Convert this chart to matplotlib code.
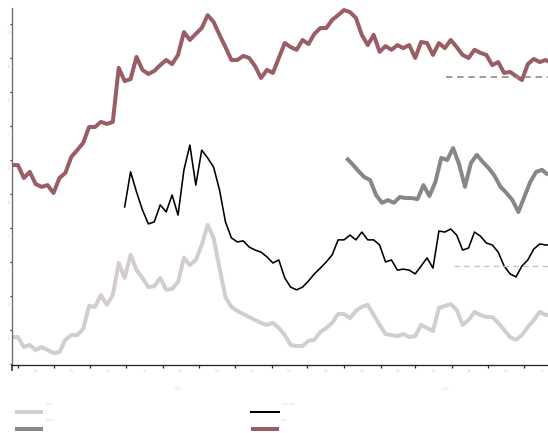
import matplotlib
matplotlib.use("Agg")
import matplotlib.pyplot as plt
import matplotlib.dates as mdates
from matplotlib.lines import Line2D
from matplotlib.transforms import blended_transform_factory, offset_copy
import pandas as pd
import numpy as np

# ---- data -------------------------------------------------------------
start = pd.Timestamp("2019-03-27")
end = pd.Timestamp("2020-06-21")
step_days = 5

# long history, thick light line
light_vals = [7.9, 7.9, 5.0, 5.6, 4.1, 5.0, 4.1, 3.2, 3.5, 7.1, 8.5, 8.5, 10.3, 17.1, 16.8,
              20.3, 17.4, 20.3, 29.7, 25.3, 32.1, 27.6, 25.3, 22.6, 22.9, 25.3, 21.8, 22.1,
              24.1, 31.2, 29.1, 30.6, 35.0, 40.9, 37.1, 28.2, 19.7, 16.8, 15.6, 14.7, 13.8,
              12.9, 12.1, 11.5, 12.1, 10.6, 8.5, 5.6, 5.3, 5.3, 6.8, 7.1, 9.4, 10.6, 12.1,
              14.7, 14.7, 13.5, 15.6, 16.8, 17.4, 14.4, 11.5, 8.8, 8.5, 8.2, 8.8, 7.9, 8.2,
              11.5, 10.6, 9.7, 16.5, 17.1, 17.6, 15.9, 11.5, 12.9, 15.3, 14.4, 13.8, 13.8,
              12.1, 10.0, 7.9, 7.1, 8.5, 10.9, 12.9, 15.3, 14.4, 14.4]

# long history, thick mauve line
mauve_vals = [58.5, 58.5, 54.7, 56.5, 52.9, 52.1, 52.6, 50.3, 54.7, 56.2, 60.9, 62.9, 65.0,
              69.7, 69.7, 71.2, 70.6, 71.2, 87.1, 83.2, 83.8, 90.3, 86.5, 85.3, 86.2, 87.9,
              89.4, 88.2, 90.9, 97.6, 95.3, 97.1, 98.8, 102.6, 100.6, 96.8, 93.2, 89.4, 89.4,
              90.6, 90.0, 87.6, 84.1, 86.5, 85.6, 90.0, 94.4, 93.2, 92.4, 95.3, 94.1, 97.1,
              98.8, 98.8, 101.2, 102.6, 104.1, 103.5, 101.8, 96.8, 93.8, 96.8, 91.8, 93.5,
              92.4, 93.8, 92.9, 93.8, 90.0, 94.7, 94.4, 90.9, 94.4, 92.9, 95.3, 93.2, 90.9,
              90.0, 92.4, 91.5, 90.9, 87.9, 88.8, 85.6, 85.9, 84.7, 83.5, 88.2, 89.7, 88.8,
              89.4, 88.5]

# shorter history, thin black line
black_start = pd.Timestamp("2019-06-30")
black_vals = [46.2, 56.5, 50.6, 45.3, 41.2, 41.8, 46.8, 44.7, 49.7, 43.8, 57.1, 64.4, 52.6,
              62.9, 60.6, 57.9, 51.2, 41.8, 37.1, 35.9, 36.2, 34.4, 33.5, 32.9, 31.5, 29.7,
              30.6, 25.3, 22.6, 21.8, 22.6, 24.4, 26.5, 28.2, 30.0, 32.1, 36.5, 36.5, 37.9,
              36.5, 38.8, 36.5, 36.5, 35.0, 30.0, 30.6, 27.6, 27.9, 27.6, 26.5, 28.8, 31.2,
              28.2, 39.1, 38.8, 39.7, 37.9, 33.5, 34.1, 38.8, 37.6, 35.6, 35.0, 32.9, 28.8,
              26.5, 25.6, 28.8, 30.6, 33.8, 35.3, 35.0, 35.0]

# shortest history, thick grey line
grey_start = pd.Timestamp("2020-01-03")
grey_vals = [60.6, 58.8, 56.8, 55.0, 54.1, 49.7, 47.4, 48.2, 47.4, 49.1, 48.8, 48.8, 48.5,
             52.6, 49.4, 53.5, 60.6, 60.0, 63.5, 58.8, 52.1, 59.1, 61.5, 59.4, 57.6, 55.3,
             52.1, 50.3, 48.2, 44.7, 49.1, 53.5, 56.5, 57.1, 55.6]

# horizontal reference levels
ref_mauve = 84.3
ref_mauve_from = pd.Timestamp("2020-03-27")
ref_black = 28.8
ref_black_from = pd.Timestamp("2020-04-03")

legend_names = ["Close", "Close (adj.)", "Volume", "Index"]
y_ticks = [0, 10, 20, 30, 40, 50, 60, 70, 80, 90, 100]
years = ["2019", "2020"]

# ---- colours ----------------------------------------------------------
c_light = "#d3cecb"
c_mauve = "#9a5d64"
c_grey = "#878787"
c_black = "#000000"
c_text = "#d4d4d4"

def series_dates(first, n):
    return pd.date_range(first, periods=n, freq=f"{step_days}D")

fig = plt.figure(figsize=(5.48, 4.33), dpi=100)
W, H = 548, 433
ax = fig.add_axes([12 / W, (H - 365) / H, 536 / W, (365 - 8) / H])

px = 72 / 100  # points per pixel

ax.plot(series_dates(start, len(light_vals)), light_vals, color=c_light, lw=4 * px,
        solid_joinstyle="round", solid_capstyle="butt")
ax.plot(series_dates(start, len(mauve_vals)), mauve_vals, color=c_mauve, lw=4 * px,
        solid_joinstyle="round", solid_capstyle="butt")
ax.plot(series_dates(black_start, len(black_vals)), black_vals, color=c_black, lw=1.6 * px,
        solid_joinstyle="round")
ax.plot(series_dates(grey_start, len(grey_vals)), grey_vals, color=c_grey, lw=4 * px,
        solid_joinstyle="round", solid_capstyle="butt")

ax.plot([ref_mauve_from, end], [ref_mauve, ref_mauve], color=c_grey, lw=1.6 * px,
        dashes=(4, 3))
ax.plot([ref_black_from, end], [ref_black, ref_black], color="#c9c3bd", lw=1.4 * px,
        dashes=(4, 3))

ax.set_xlim(start, end)
ax.set_ylim(-0.3, 104.7)

for s in ("top", "right"):
    ax.spines[s].set_visible(False)
ax.spines["left"].set_color("#6a6a6a")
ax.spines["left"].set_linewidth(1.3 * px)
ax.spines["bottom"].set_color("#222222")
ax.spines["bottom"].set_linewidth(1.3 * px)

# month ticks along the bottom, longer ticks at year boundaries
ax.xaxis.set_major_locator(mdates.MonthLocator())
ax.xaxis.set_major_formatter(plt.NullFormatter())
ax.set_xticks([start, pd.Timestamp("2020-01-01")], minor=True)
ax.tick_params(axis="x", which="major", direction="out", length=3 * px, width=1.2 * px,
               color="#222222")
ax.tick_params(axis="x", which="minor", direction="out", length=6 * px, width=1.6 * px,
               color="#333333")

ax.set_yticks(y_ticks)
ax.set_yticklabels([])
ax.tick_params(axis="y", direction="out", length=2 * px, width=1.2 * px, color="#333333")

# month names centred between month ticks
trans_x = blended_transform_factory(ax.transData, fig.transFigure)
months = pd.date_range("2019-04-01", "2020-07-01", freq="MS")
for a, b in zip(months[:-1], months[1:]):
    mid = a + (b - a) / 2
    if mid > end:
        break
    ax.text(mid, (H - 371) / H, a.strftime("%b"), transform=trans_x, fontsize=1.8,
            color=c_text, ha="center", va="center", clip_on=False)

# year names centred under their visible span
spans = [(start, pd.Timestamp("2020-01-01")), (pd.Timestamp("2020-01-01"), end)]
for name, (a, b) in zip(years, spans):
    ax.text(a + (b - a) / 2, (H - 389) / H, name, transform=trans_x, fontsize=1.8,
            color=c_text, ha="center", va="center", clip_on=False)

# y labels just left of the axis
trans_y = blended_transform_factory(fig.transFigure, ax.transData)
for v in y_ticks:
    t = offset_copy(trans_y, fig=fig, x=0, y=-9, units="dots")
    ax.text(9 / W, v, str(v), transform=t, fontsize=1.8, color=c_text,
            ha="center", va="center", clip_on=False)

# legend: two columns of swatches with labels above-right
entries = [
    (15, 43, 412, c_light, 4, legend_names[0], 46, 404),
    (250, 280, 412, c_black, 2, legend_names[1], 281, 404),
    (15, 43, 429, c_grey, 4, legend_names[2], 46, 420),
    (251, 279, 429, c_mauve, 4, legend_names[3], 281, 420),
]
for x0, x1, yy, col, lw, name, tx, ty in entries:
    fig.add_artist(Line2D([x0 / W, x1 / W], [(H - yy) / H, (H - yy) / H],
                          transform=fig.transFigure, color=col, lw=lw * px,
                          solid_capstyle="butt"))
    fig.text(tx / W, (H - ty) / H, name, fontsize=1.8, color=c_text,
             ha="left", va="center")

fig.savefig("out.png", dpi=100)
